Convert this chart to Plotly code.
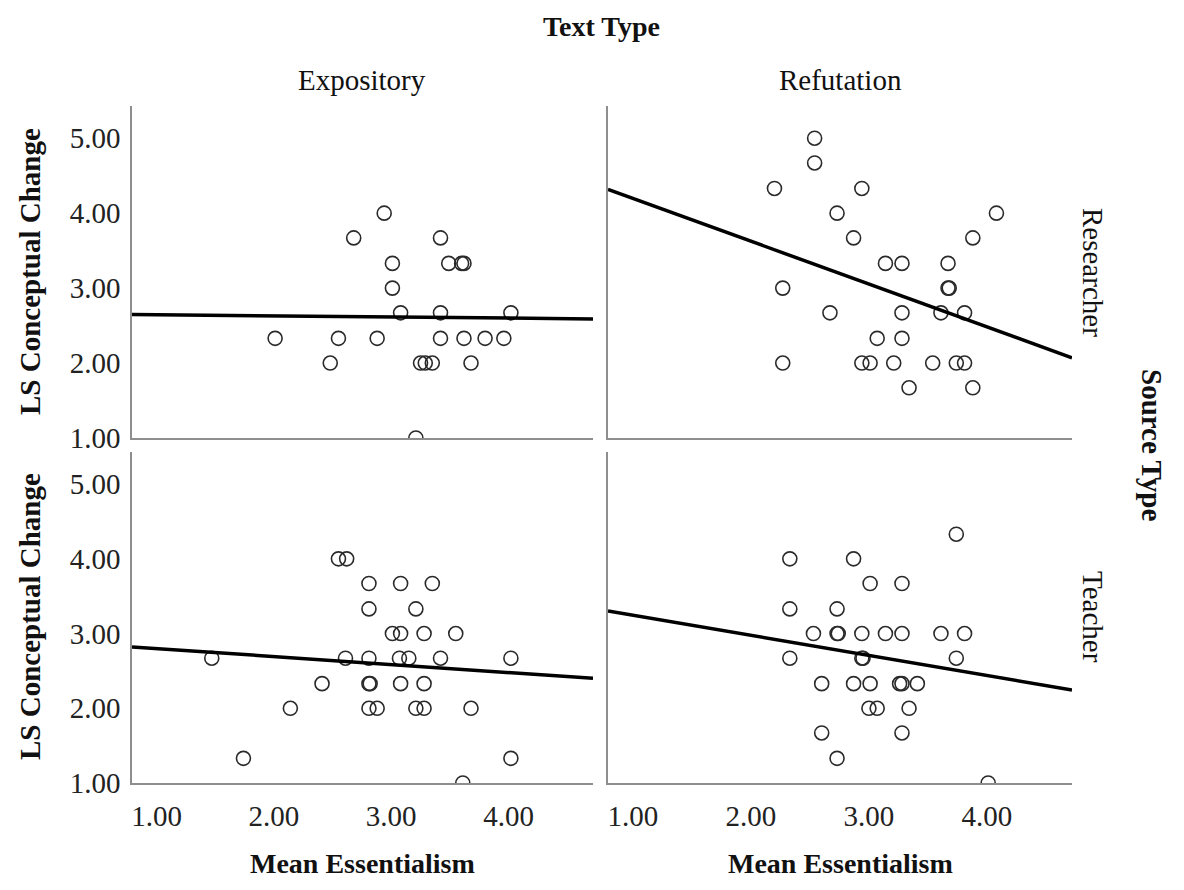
import plotly.graph_objects as go

# ---------------- data ----------------
text_types = ["Expository", "Refutation"]
source_types = ["Researcher", "Teacher"]

# Expository / Researcher
exp_res_x = [2.94, 2.68, 3.42, 3.01, 3.49, 3.60, 3.62, 3.01, 3.08, 3.42, 4.02, 2.01, 2.55, 2.88,
             3.42, 3.62, 3.80, 3.96, 2.48, 3.25, 3.29, 3.35, 3.68, 3.21]
exp_res_y = [4.00, 3.67, 3.67, 3.33, 3.33, 3.33, 3.33, 3.00, 2.67, 2.67, 2.67, 2.33, 2.33, 2.33,
             2.33, 2.33, 2.33, 2.33, 2.00, 2.00, 2.00, 2.00, 2.00, 1.00]

# Refutation / Researcher
ref_res_x = [2.54, 2.54, 2.20, 2.94, 2.73, 4.08, 2.87, 3.88, 3.14, 3.28, 3.67, 2.27, 3.67, 3.68,
             2.67, 3.28, 3.61, 3.81, 3.07, 3.28, 2.27, 2.94, 3.01, 3.21, 3.54, 3.74, 3.81, 3.34, 3.88]
ref_res_y = [5.00, 4.67, 4.33, 4.33, 4.00, 4.00, 3.67, 3.67, 3.33, 3.33, 3.33, 3.00, 3.00, 3.00,
             2.67, 2.67, 2.67, 2.67, 2.33, 2.33, 2.00, 2.00, 2.00, 2.00, 2.00, 2.00, 2.00, 1.67, 1.67]

# Expository / Teacher
exp_tea_x = [2.55, 2.62, 2.81, 3.08, 3.35, 2.81, 3.21, 3.01, 3.08, 3.28, 3.55, 1.47, 2.61, 2.81,
             3.07, 3.15, 3.42, 4.02, 2.41, 2.81, 2.82, 3.08, 3.28, 2.14, 2.81, 2.88, 3.21, 3.28,
             3.68, 1.74, 4.02, 3.61]
exp_tea_y = [4.00, 4.00, 3.67, 3.67, 3.67, 3.33, 3.33, 3.00, 3.00, 3.00, 3.00, 2.67, 2.67, 2.67,
             2.67, 2.67, 2.67, 2.67, 2.33, 2.33, 2.33, 2.33, 2.33, 2.00, 2.00, 2.00, 2.00, 2.00,
             2.00, 1.33, 1.33, 1.00]

# Refutation / Teacher
ref_tea_x = [3.74, 2.33, 2.87, 3.01, 3.28, 2.33, 2.73, 2.53, 2.73, 2.74, 2.94, 3.14, 3.28, 3.61,
             3.81, 2.33, 2.94, 2.95, 3.74, 2.60, 2.87, 3.01, 3.26, 3.28, 3.41, 3.00, 3.07, 3.34,
             2.60, 3.28, 2.73, 4.01]
ref_tea_y = [4.33, 4.00, 4.00, 3.67, 3.67, 3.33, 3.33, 3.00, 3.00, 3.00, 3.00, 3.00, 3.00, 3.00,
             3.00, 2.67, 2.67, 2.67, 2.67, 2.33, 2.33, 2.33, 2.33, 2.33, 2.33, 2.00, 2.00, 2.00,
             1.67, 1.67, 1.33, 1.00]

# fit lines (intercept, slope)
fit_intercept = [2.66, 4.77, 2.906, 3.515]
fit_slope = [-0.015, -0.572, -0.107, -0.269]

x_range = [0.79, 4.72]
y_range = [1.0, 5.43]
x_ticks = [1, 2, 3, 4]
y_ticks = [1, 2, 3, 4, 5]

panels = [
    (exp_res_x, exp_res_y, "x", "y"),
    (ref_res_x, ref_res_y, "x2", "y2"),
    (exp_tea_x, exp_tea_y, "x3", "y3"),
    (ref_tea_x, ref_tea_y, "x4", "y4"),
]

# page body has an 8px margin; size the figure so the page fits the window exactly
OFF = 8
W, H = 1184 - OFF, 890 - 2 * OFF
FONT = "Liberation Serif"
FS = 29

# helpers converting window pixel positions to paper fractions
def fx(px):
    return (px - OFF) / W

def fy(py):
    return 1 - (py - OFF) / H

col_dom = [[fx(132), fx(593)], [fx(608), fx(1072)]]
row_dom = [[fy(438), fy(106)], [fy(783), fy(452)]]

fig = go.Figure()

for i, (xs, ys, xa, ya) in enumerate(panels):
    fig.add_trace(go.Scatter(
        x=xs, y=ys, mode="markers", xaxis=xa, yaxis=ya, showlegend=False,
        marker=dict(symbol="circle-open", size=14, color="#2a2a2a", line=dict(width=1.6, color="#2a2a2a")),
        cliponaxis=True,
    ))
    lx = x_range
    ly = [fit_intercept[i] + fit_slope[i] * v for v in lx]
    fig.add_trace(go.Scatter(
        x=lx, y=ly, mode="lines", xaxis=xa, yaxis=ya, showlegend=False,
        line=dict(color="black", width=3.5),
    ))

axis_common = dict(showgrid=False, zeroline=False, showline=True, linecolor="#8e8e8e",
                   linewidth=1.5, ticks="", mirror=False, automargin=False,
                   tickfont=dict(family=FONT, size=FS, color="#222"))

layout = dict(width=W, height=H, margin=dict(l=0, r=0, t=0, b=0),
              plot_bgcolor="white", paper_bgcolor="white", showlegend=False)

for i in range(4):
    r, c = divmod(i, 2)
    suf = "" if i == 0 else str(i + 1)
    layout["xaxis" + suf] = dict(
        axis_common, domain=col_dom[c], range=x_range, anchor="y" + suf,
        tickvals=x_ticks, ticktext=["%.2f" % v for v in x_ticks],
        showticklabels=(r == 1), ticklabelstandoff=6,
    )
    layout["yaxis" + suf] = dict(
        axis_common, domain=row_dom[r], range=y_range, anchor="x" + suf,
        tickvals=y_ticks, ticktext=["%.2f" % v for v in y_ticks],
        showticklabels=(c == 0), ticklabelstandoff=4,
    )

fig.update_layout(**layout)

ann = []
def add_text(text, px, py, bold=False, angle=0, size=FS):
    ann.append(dict(text=("<b>%s</b>" % text) if bold else text, x=fx(px), y=fy(py),
                    xref="paper", yref="paper", showarrow=False, textangle=angle,
                    xanchor="center", yanchor="middle", borderpad=0,
                    font=dict(family=FONT, size=size, color="#111")))

add_text("Text Type", 602, 27, bold=True, size=28)
add_text(text_types[0], 362, 80)
add_text(text_types[1], 840, 80)
add_text(source_types[0], 1093, 272, angle=90)
add_text(source_types[1], 1093, 617, angle=90)
add_text("Source Type", 1152, 445, bold=True, angle=90)
add_text("LS Conceptual Change", 30, 272, bold=True, angle=-90)
add_text("LS Conceptual Change", 30, 617, bold=True, angle=-90)
add_text("Mean Essentialism", 362, 863, bold=True, size=28)
add_text("Mean Essentialism", 840, 863, bold=True, size=28)

fig.update_layout(annotations=ann)

fig.write_html("out.html")
